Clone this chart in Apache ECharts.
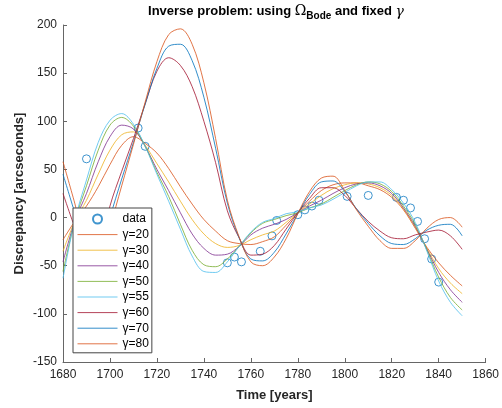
<!DOCTYPE html>
<html>
<head>
<meta charset="utf-8">
<script src="https://cdn.jsdelivr.net/npm/echarts@6/dist/echarts.min.js"></script>
<style>html,body{margin:0;padding:0;background:#fff}#c{width:502px;height:408px}</style>
</head>
<body>
<div id="c"></div>
<script>
// ---- data ----
const years = [1680,1685,1690,1695,1700,1705,1710,1715,1720,1725,1730,1735,1740,1745,1750,1755,1760,1765,1770,1775,1780,1785,1790,1795,1800,1805,1810,1815,1820,1825,1830,1835,1840,1845,1850];
const g20 = [-23,-4,12,32,55,75,84,77,67,51,32,14,-2,-14,-24,-27,-28,-25,-20,-8,5,17,28,34,36,36,33,29,21,8,-11,-31,-47,-60,-71];
const g30 = [-35,-4,18,45,70,86,89,75,56,37,17,-2,-17,-27,-31,-29,-23,-18,-14,-5,5,14,23,30,34,36,35,31,23,9,-10,-32,-53,-68,-79];
const g40 = [-46,-4,25,58,84,96,92,74,50,28,5,-17,-32,-39,-38,-30,-18,-11,-7,-2,5,12,18,25,31,35,36,33,25,10,-9,-33,-57,-75,-88];
const g50 = [-56,-4,33,70,96,104,95,74,47,22,-7,-34,-49,-51,-43,-30,-16,-6,-2,2,5,10,14,21,28,34,37,35,27,12,-7,-34,-62,-83,-96];
const g55 = [-63,-3,39,78,101,108,97,74,45,17,-12,-40,-56,-57,-46,-30,-15,-5,-1,4,6,10,13,19,26,33,37,37,29,15,-5,-35,-66,-88,-102];
const g60 = [25,-10,-40,-40,12,48,82,118,152,166,158,136,100,57,7,-21,-39,-38,-29,-12,5,20,31,31,23,9,-4,-14,-21,-22,-18,-15,-13,-19,-33];
const g70 = [45,5,-35,-45,0,40,78,118,155,178,180,163,125,72,15,-21,-43,-45,-36,-17,4,24,37,38,27,9,-6,-19,-27,-28,-22,-13,-8,-7,-19];
const g80 = [58,15,-30,-48,-10,33,76,120,162,190,196,180,140,82,18,-20,-46,-50,-41,-22,4,27,41,43,28,8,-9,-24,-32,-32,-24,-11,-2,0,-10];
const obsX = [1690,1712,1715,1750,1753,1756,1764,1769,1771,1780,1783,1786,1789,1801,1810,1822,1825,1828,1831,1834,1837,1840];
const obsY = [61,93,74,-47,-41,-46,-35,-19,-3,3,8,12,18,22,23,21,18,10,-4,-22,-43,-67];
const seriesNames = ['γ=20','γ=30','γ=40','γ=50','γ=55','γ=60','γ=70','γ=80'];
const seriesVals = [g20,g30,g40,g50,g55,g60,g70,g80];
const xTicks = [1680,1860,20];
const yTicks = [-150,200,50];
// ---- styles ----
const colors = ['#D95319','#EDB120','#7E2F8E','#77AC30','#4DBEEE','#A2142F','#0072BD','#D95319'];
const FONT = '"Liberation Sans", Arial, sans-serif';

const chart = echarts.init(document.getElementById('c'), null, {renderer:'canvas'});
const series = [{
  name:'data', type:'scatter', symbol:'circle', symbolSize:8,
  itemStyle:{color:'rgba(255,255,255,0)', borderColor:'#0072BD', borderWidth:1, opacity:0.75},
  data: obsX.map((x,i)=>[x, obsY[i]]), z:2
}];
seriesNames.forEach((n,k)=>{
  series.push({
    name:n, type:'line', symbol:'none', smooth:0.35,
    lineStyle:{color:colors[k], width:1, opacity:0.8}, itemStyle:{color:colors[k]},
    data: years.map((x,i)=>[x, seriesVals[k][i]]), z:3
  });
});
const axisCommon = {
  axisLine:{show:true, onZero:false, lineStyle:{color:'#666', width:1}},
  axisTick:{show:true, inside:true, length:4, lineStyle:{color:'#666'}},
  splitLine:{show:false},
  axisLabel:{color:'#262626', fontFamily:FONT, fontSize:12, formatter:v=>String(v)},
  nameTextStyle:{color:'#262626', fontFamily:FONT, fontSize:13, fontWeight:'bold'}
};

// title pieces (Ω with subscript "Bode"), laid out with measured widths
const mctx = document.createElement('canvas').getContext('2d');
const fBold = 'bold 13px ' + FONT;
const fSub = 'bold 10px ' + FONT;
const fGreek = '14px "DejaVu Serif", serif';
const fGreekIt = 'italic 14px "DejaVu Serif", serif';
const pieces = [
  {t:'Inverse problem: using ', f:fBold, dy:0},
  {t:'Ω', f:fGreek, dy:0},
  {t:'Bode', f:fSub, dy:5},
  {t:' and fixed ', f:fBold, dy:0},
  {t:'γ', f:fGreekIt, dy:1}
];
let total = 0;
pieces.forEach(p=>{ mctx.font = p.f; p.w = mctx.measureText(p.t).width; total += p.w; });
let cx = 276 - total/2;
const titleEls = pieces.map(p=>{
  const el = {type:'text', x:cx, y:11.5 + p.dy, z:100,
    style:{text:p.t, font:p.f, fill:'#000', align:'left', verticalAlign:'middle'}};
  cx += p.w;
  return el;
});
titleEls.push({type:'text', x:19, y:193.5, rotation:Math.PI/2, z:100,
  style:{text:'Discrepancy [arcseconds]', font:fBold, fill:'#262626', align:'center', verticalAlign:'middle'}});

const legendData = [{name:'data'}].concat(seriesNames.map(n=>({name:n, itemStyle:{opacity:0}, lineStyle:{width:1}})));

chart.setOption({
  animation:false,
  backgroundColor:'#fff',
  grid:{left:63, right:13, top:25, bottom:46},
  xAxis: Object.assign({}, axisCommon, {
    type:'value', min:xTicks[0], max:xTicks[1], interval:xTicks[2],
    name:'Time [years]', nameLocation:'middle', nameGap:27,
    axisLabel:Object.assign({}, axisCommon.axisLabel, {margin:7})
  }),
  yAxis: Object.assign({}, axisCommon, {
    type:'value', min:yTicks[0], max:yTicks[1], interval:yTicks[2],
    axisLabel:Object.assign({}, axisCommon.axisLabel, {margin:6})
  }),
  legend:{
    orient:'vertical', left:73, top:208,
    data:legendData,
    itemWidth:40, itemHeight:9, itemGap:3.6,
    padding:[5,3,3,4],
    backgroundColor:'#fff', borderColor:'#444', borderWidth:1,
    textStyle:{color:'#000', fontFamily:FONT, fontSize:12, lineHeight:12},
    selectedMode:false
  },
  graphic:titleEls,
  series:series
});
</script>
</body>
</html>
